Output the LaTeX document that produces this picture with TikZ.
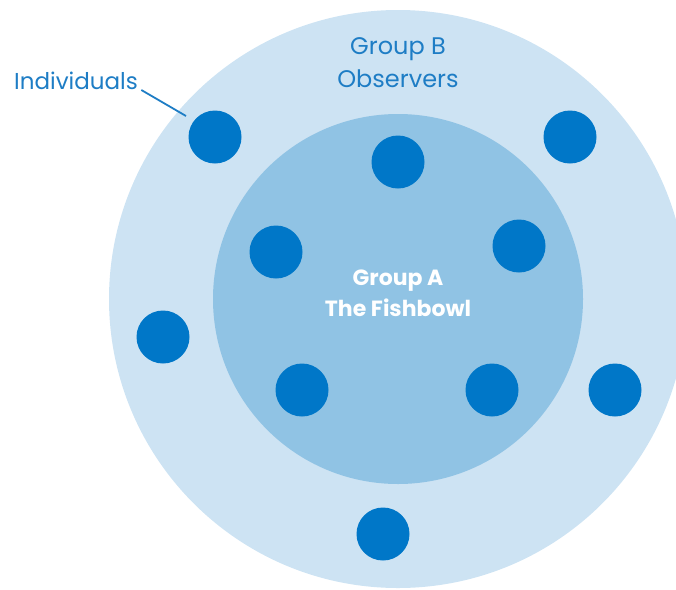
\documentclass[tikz,border=0pt]{standalone}
\usepackage{fontspec}
\setmainfont{Poppins}
\usetikzlibrary{positioning}
\definecolor{outerblue}{HTML}{CDE3F3}
\definecolor{innerblue}{HTML}{90C3E4}
\definecolor{dotblue}{HTML}{0077C8}
\definecolor{textblue}{HTML}{1E7DC5}

\begin{document}
\begin{tikzpicture}[x=1pt, y=-1pt,
        person/.style={circle, fill=dotblue, minimum size=53pt, inner sep=0pt},
        grouplabel/.style={align=center, font=\fontsize{24}{33}\selectfont, text=textblue},
        leader/.style={draw=textblue, line width=1.8pt}]
        \useasboundingbox (0,0) rectangle (676,589);
        \clip (0,0) rectangle (676,589);

        % Circles
        \fill[outerblue] (398,299) circle (289pt);
        \fill[innerblue] (398,299) circle (185pt);

        % Group B (outer ring)
        \node[person] (b1) at (215,137) {};
        \node[person] (b2) at (570,137) {};
        \node[person] (b3) at (163,337) {};
        \node[person] (b4) at (615,390) {};
        \node[person] (b5) at (383,534) {};

        % Group A (fishbowl)
        \node[person] (a1) at (398,162) {};
        \node[person] (a2) at (276,252) {};
        \node[person] (a3) at (519,246) {};
        \node[person] (a4) at (302,390) {};
        \node[person] (a5) at (492,390) {};

        % Labels
        \node[grouplabel] (groupb) at (398,63) {Group B\\Observers};
        \node[grouplabel, font=\fontsize{22}{31}\selectfont\bfseries, text=white] (groupa) at (398,293) {Group A\\The Fishbowl};
        \node[grouplabel, font=\fontsize{23}{31}\selectfont] (ind) at (76,81) {Individuals};

        % Leader
        \coordinate (lead) at (186,116);
        \draw[leader] ([yshift=-9pt]ind.east) -- (lead);
\end{tikzpicture}
\end{document}
